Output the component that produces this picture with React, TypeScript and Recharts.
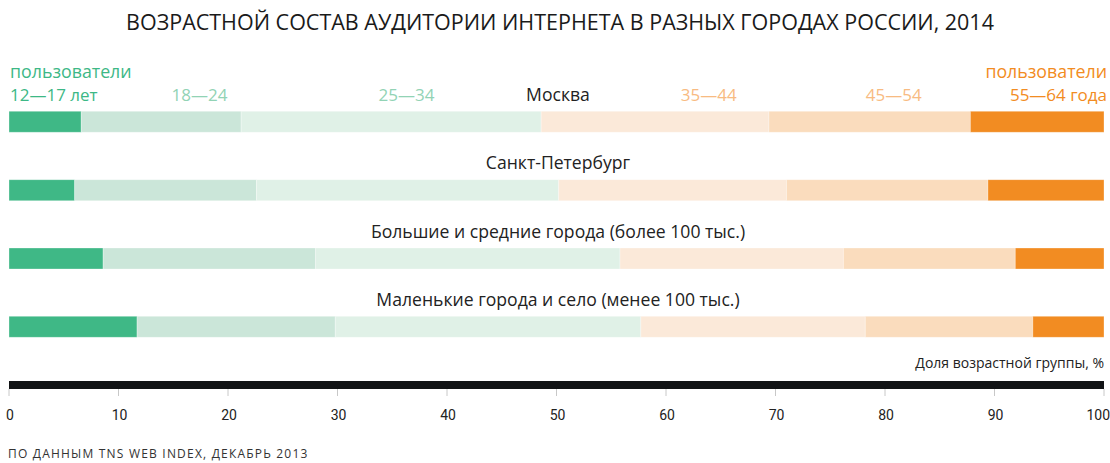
import React from 'react';
import { BarChart, Bar, XAxis, YAxis } from 'recharts';

const categories = [
  'Москва',
  'Санкт-Петербург',
  'Большие и средние города (более 100 тыс.)',
  'Маленькие города и село (менее 100 тыс.)',
];
const age12_17 = [6.6, 6.0, 8.6, 11.7];
const age18_24 = [14.6, 16.6, 19.4, 18.1];
const age25_34 = [27.4, 27.6, 27.8, 27.9];
const age35_44 = [20.8, 20.8, 20.4, 20.5];
const age45_54 = [18.4, 18.4, 15.7, 15.3];
const age55_64 = [12.2, 10.6, 8.1, 6.5];

const axisTicks = [0, 10, 20, 30, 40, 50, 60, 70, 80, 90, 100];
const legendTicks = [0, 17.4, 36.3, 63.9, 80.8, 100];
const legendLabels = ['12—17 лет', '18—24', '25—34', '35—44', '45—54', '55—64 года'];
const legendColors = ['#3db886', '#92d3b5', '#92d3b5', '#f8bb82', '#f8bb82', '#f28c22'];

const seriesKeys = ['a1', 'a2', 'a3', 'a4', 'a5', 'a6'];
const seriesColors = ['#3fb886', '#cbe6d9', '#e0f1e7', '#fbe9d9', '#fadcbd', '#f28c22'];

const data = categories.map((name, i) => ({
  name,
  a1: age12_17[i],
  a2: age18_24[i],
  a3: age25_34[i],
  a4: age35_44[i],
  a5: age45_54[i],
  a6: age55_64[i],
}));

const FONT = '"Open Sans", "Noto Sans", sans-serif';
const NARROW = '"Roboto", "Liberation Sans Narrow", sans-serif';

const TopTick = (props: any) => {
  const { x, payload } = props;
  const idx = legendTicks.indexOf(payload.value);
  if (idx < 0) return null;
  const label = legendLabels[idx];
  const color = legendColors[idx];
  if (idx === 0 || idx === legendTicks.length - 1) {
    const anchor = idx === 0 ? 'start' : 'end';
    const tx = idx === 0 ? x + 1 : x + 3;
    return (
      <g>
        <text x={tx} y={78} textAnchor={anchor} fill={color} fontSize={17.8} fontFamily={FONT}>
          пользователи
        </text>
        <text x={tx} y={101} textAnchor={anchor} fill={color} fontSize={17} fontFamily={FONT}>
          {label}
        </text>
      </g>
    );
  }
  return (
    <text x={x} y={101} textAnchor="middle" fill={color} fontSize={17} fontFamily={FONT}>
      {label}
    </text>
  );
};

const BottomTick = (props: any) => {
  const { x, payload } = props;
  const last = payload.value === axisTicks[axisTicks.length - 1];
  return (
    <g>
      <line x1={x} x2={x} y1={389} y2={396} stroke="#c8c8c8" strokeWidth={1} />
      <text
        x={last ? x + 6 : x + 1}
        y={420}
        textAnchor={last ? 'end' : 'middle'}
        fill="#222"
        fontSize={14}
        fontFamily={NARROW}
      >
        {payload.value}
      </text>
    </g>
  );
};

const RowTick = (props: any) => {
  const { y, payload } = props;
  return (
    <text x={558} y={y - 20.5} textAnchor="middle" fill="#222" fontSize={17.6} fontFamily={FONT}>
      {payload.value}
    </text>
  );
};

export default function App() {
  return (
    <div style={{ position: 'absolute', left: 0, top: 0, width: 1110, height: 463, background: '#fff' }}>
      <div
        style={{
          position: 'absolute',
          left: 5,
          top: 7,
          width: 1110,
          textAlign: 'center',
          fontFamily: FONT,
          fontSize: 21.5,
          color: '#1a1a1a',
          lineHeight: '30px',
        }}
      >
        ВОЗРАСТНОЙ СОСТАВ АУДИТОРИИ ИНТЕРНЕТА В РАЗНЫХ ГОРОДАХ РОССИИ, 2014
      </div>
      <BarChart
        width={1110}
        height={463}
        data={data}
        layout="vertical"
        margin={{ top: 86.3, right: 6, bottom: 48, left: 8 }}
        barSize={21}
      >
        <XAxis
          xAxisId="top"
          orientation="top"
          type="number"
          domain={[0, 100]}
          ticks={legendTicks}
          height={1}
          axisLine={false}
          tickLine={false}
          tick={<TopTick />}
          interval={0}
          allowDataOverflow
        />
        <XAxis
          type="number"
          domain={[0, 100]}
          ticks={axisTicks}
          height={30}
          axisLine={{ stroke: '#111315', strokeWidth: 8 }}
          tickLine={false}
          tick={<BottomTick />}
          interval={0}
        />
        <YAxis
          type="category"
          dataKey="name"
          width={1}
          axisLine={false}
          tickLine={false}
          tick={<RowTick />}
          interval={0}
          padding={{ top: 0, bottom: 24.3 }}
        />
        {seriesKeys.map((k, i) => (
          <Bar
            key={k}
            dataKey={k}
            stackId="s"
            fill={seriesColors[i]}
            stroke="#ffffff"
            strokeOpacity={0.3}
            strokeWidth={1}
            isAnimationActive={false}
          />
        ))}
      </BarChart>
      <div
        style={{
          position: 'absolute',
          right: 6,
          top: 353,
          fontFamily: FONT,
          fontSize: 14,
          color: '#222',
          lineHeight: '20px',
        }}
      >
        Доля возрастной группы, %
      </div>
      <div
        style={{
          position: 'absolute',
          left: 8,
          top: 446,
          fontFamily: FONT,
          fontSize: 12,
          letterSpacing: 1.2,
          color: '#333',
          lineHeight: '15px',
        }}
      >
        ПО ДАННЫМ TNS WEB INDEX, ДЕКАБРЬ 2013
      </div>
    </div>
  );
}
